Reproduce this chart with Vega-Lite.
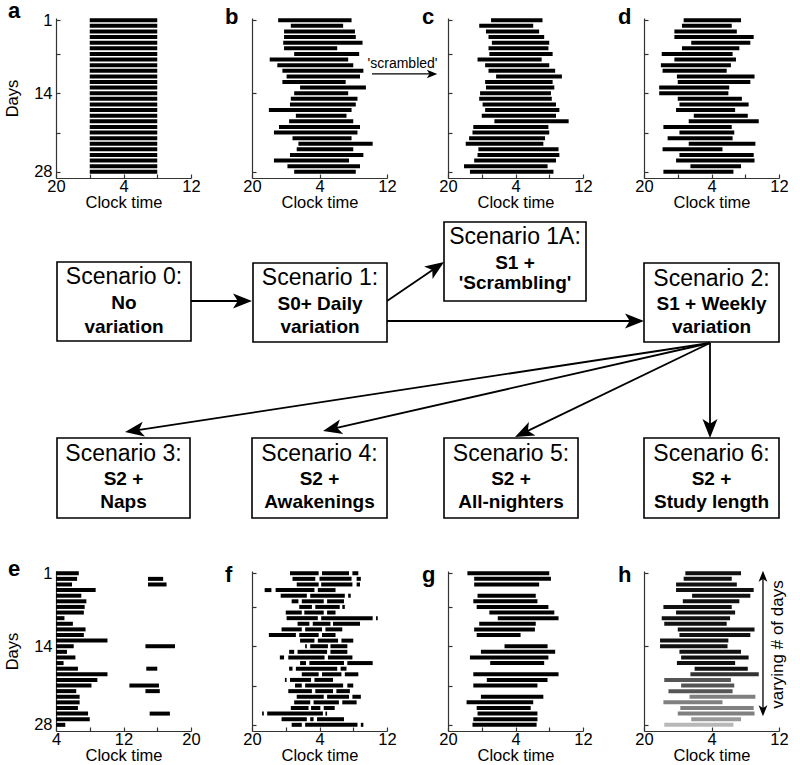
{
"$schema":"https://vega.github.io/schema/vega-lite/v6.json",
"padding":{"left":4,"top":0,"right":0,"bottom":0},
"spacing":0,
"config":{"view":{"stroke":null},"font":"Liberation Sans",
 "axis":{"domainColor":"#333","domainWidth":1.2,"tickColor":"#333","tickWidth":1.2,"tickSize":-4,"labelPadding":8,"labelFontSize":16.5,"titleFontSize":16.5,"titleFontWeight":"normal","labelColor":"#000","titleColor":"#000","grid":false,"labelFlush":false,"labelOverlap":false,"labelFont":"Liberation Sans","titleFont":"Liberation Sans"},
 "axisX":{"titlePadding":0,"labelPadding":4},
 "axisY":{"titlePadding":13}},
"datasets":{
"A":[{"d":1,"s":24,"e":32},{"d":2,"s":24,"e":32},{"d":3,"s":24,"e":32},{"d":4,"s":24,"e":32},{"d":5,"s":24,"e":32},{"d":6,"s":24,"e":32},{"d":7,"s":24,"e":32},{"d":8,"s":24,"e":32},{"d":9,"s":24,"e":32},{"d":10,"s":24,"e":32},{"d":11,"s":24,"e":32},{"d":12,"s":24,"e":32},{"d":13,"s":24,"e":32},{"d":14,"s":24,"e":32},{"d":15,"s":24,"e":32},{"d":16,"s":24,"e":32},{"d":17,"s":24,"e":32},{"d":18,"s":24,"e":32},{"d":19,"s":24,"e":32},{"d":20,"s":24,"e":32},{"d":21,"s":24,"e":32},{"d":22,"s":24,"e":32},{"d":23,"s":24,"e":32},{"d":24,"s":24,"e":32},{"d":25,"s":24,"e":32},{"d":26,"s":24,"e":32},{"d":27,"s":24,"e":32},{"d":28,"s":24,"e":32}],
"B":[{"d":1,"s":23.1,"e":31.8},{"d":2,"s":24.6,"e":30.8},{"d":3,"s":23.8,"e":32.2},{"d":4,"s":23.8,"e":32.3},{"d":5,"s":23.7,"e":33.1},{"d":6,"s":23.8,"e":30.1},{"d":7,"s":25.0,"e":32.7},{"d":8,"s":22.1,"e":31.4},{"d":9,"s":23.0,"e":32.0},{"d":10,"s":23.6,"e":33.2},{"d":11,"s":24.1,"e":32.8},{"d":12,"s":23.6,"e":31.1},{"d":13,"s":25.7,"e":33.5},{"d":14,"s":25.0,"e":31.4},{"d":15,"s":24.6,"e":32.5},{"d":16,"s":24.5,"e":32.3},{"d":17,"s":22.0,"e":31.8},{"d":18,"s":25.2,"e":31.2},{"d":19,"s":24.4,"e":32.0},{"d":20,"s":23.2,"e":32.8},{"d":21,"s":22.6,"e":32.5},{"d":22,"s":24.8,"e":31.8},{"d":23,"s":25.5,"e":34.3},{"d":24,"s":25.3,"e":32.0},{"d":25,"s":24.5,"e":33.2},{"d":26,"s":22.6,"e":31.5},{"d":27,"s":24.2,"e":32.8},{"d":28,"s":25.0,"e":32.3}],
"C":[{"d":1,"s":25.1,"e":31.2},{"d":2,"s":23.7,"e":30.1},{"d":3,"s":24.5,"e":30.8},{"d":4,"s":24.8,"e":31.4},{"d":5,"s":25.2,"e":32.0},{"d":6,"s":24.8,"e":31.9},{"d":7,"s":24.9,"e":32.4},{"d":8,"s":23.5,"e":31.1},{"d":9,"s":24.4,"e":32.0},{"d":10,"s":24.8,"e":32.7},{"d":11,"s":25.7,"e":33.5},{"d":12,"s":24.4,"e":32.4},{"d":13,"s":24.5,"e":32.6},{"d":14,"s":23.8,"e":32.2},{"d":15,"s":23.7,"e":32.3},{"d":16,"s":24.1,"e":32.8},{"d":17,"s":24.4,"e":33.2},{"d":18,"s":24.0,"e":32.8},{"d":19,"s":25.5,"e":34.3},{"d":20,"s":23.0,"e":31.9},{"d":21,"s":22.9,"e":32.0},{"d":22,"s":22.5,"e":31.5},{"d":23,"s":22.1,"e":31.3},{"d":24,"s":23.6,"e":33.1},{"d":25,"s":23.5,"e":33.2},{"d":26,"s":23.1,"e":32.8},{"d":27,"s":21.9,"e":31.8},{"d":28,"s":22.6,"e":32.5}],
"D":[{"d":1,"s":24.7,"e":31.5},{"d":2,"s":24.5,"e":30.4},{"d":3,"s":23.6,"e":31.0},{"d":4,"s":23.6,"e":33.0},{"d":5,"s":25.6,"e":32.6},{"d":6,"s":24.5,"e":31.3},{"d":7,"s":22.1,"e":30.5},{"d":8,"s":23.6,"e":30.9},{"d":9,"s":22.0,"e":30.3},{"d":10,"s":22.2,"e":29.8},{"d":11,"s":23.9,"e":33.1},{"d":12,"s":24.0,"e":32.6},{"d":13,"s":21.8,"e":30.1},{"d":14,"s":21.8,"e":30.0},{"d":15,"s":24.0,"e":31.6},{"d":16,"s":24.2,"e":32.4},{"d":17,"s":23.8,"e":30.8},{"d":18,"s":25.9,"e":32.3},{"d":19,"s":25.3,"e":33.6},{"d":20,"s":22.3,"e":30.4},{"d":21,"s":24.2,"e":30.7},{"d":22,"s":22.8,"e":30.5},{"d":23,"s":25.3,"e":33.2},{"d":24,"s":22.2,"e":29.3},{"d":25,"s":24.2,"e":33.0},{"d":26,"s":23.8,"e":33.1},{"d":27,"s":25.5,"e":31.5},{"d":28,"s":22.3,"e":30.6}],
"E":[{"d":1,"s":4,"e":6.7},{"d":2,"s":4,"e":6.5},{"d":3,"s":4,"e":5.9},{"d":4,"s":4,"e":8.7},{"d":5,"s":4,"e":7.0},{"d":6,"s":4,"e":7.6},{"d":7,"s":4,"e":7.4},{"d":8,"s":4,"e":7.3},{"d":9,"s":4,"e":5.0},{"d":10,"s":4,"e":6.0},{"d":11,"s":4,"e":7.5},{"d":12,"s":4,"e":7.3},{"d":13,"s":4,"e":10.1},{"d":14,"s":4,"e":6.1},{"d":15,"s":4,"e":5.3},{"d":16,"s":4,"e":6.3},{"d":17,"s":4,"e":4.9},{"d":18,"s":4,"e":6.6},{"d":19,"s":4,"e":10.1},{"d":20,"s":4,"e":8.9},{"d":21,"s":4,"e":8.2},{"d":22,"s":4,"e":6.4},{"d":23,"s":4,"e":6.8},{"d":24,"s":4,"e":6.8},{"d":25,"s":4,"e":6.6},{"d":26,"s":4,"e":7.8},{"d":27,"s":4,"e":8.0},{"d":28,"s":4,"e":5.1},
 {"d":2,"s":14.9,"e":16.7},{"d":3,"s":14.9,"e":17.1},{"d":14,"s":14.6,"e":18.1},{"d":18,"s":14.7,"e":16.0},{"d":21,"s":12.7,"e":16.2},{"d":22,"s":14.6,"e":16.3},{"d":26,"s":15.1,"e":17.5}],
"F":[{"d":1,"s":24.5,"e":27.9},{"d":1,"s":28.3,"e":31.5},{"d":1,"s":31.9,"e":32.6},
 {"d":2,"s":24.8,"e":27.5},{"d":2,"s":28.0,"e":31.8},{"d":2,"s":32.4,"e":32.9},
 {"d":3,"s":25.3,"e":27.9},{"d":3,"s":28.2,"e":31.9},{"d":3,"s":32.4,"e":32.8},
 {"d":4,"s":21.5,"e":22.3},{"d":4,"s":22.8,"e":27.4},{"d":4,"s":27.8,"e":29.9},
 {"d":5,"s":23.4,"e":26.5},{"d":5,"s":26.9,"e":31.0},{"d":5,"s":31.4,"e":31.7},
 {"d":6,"s":24.7,"e":25.5},{"d":6,"s":25.9,"e":28.5},{"d":6,"s":28.9,"e":30.9},
 {"d":7,"s":25.6,"e":27.1},{"d":7,"s":27.5,"e":30.4},{"d":7,"s":30.7,"e":31.0},
 {"d":8,"s":24.0,"e":25.9},{"d":8,"s":26.2,"e":28.5},{"d":8,"s":28.9,"e":29.9},
 {"d":9,"s":24.1,"e":27.8},{"d":9,"s":28.2,"e":34.3},{"d":9,"s":34.7,"e":34.9},
 {"d":10,"s":25.4,"e":26.8},{"d":10,"s":27.2,"e":29.3},{"d":10,"s":29.6,"e":32.8},
 {"d":11,"s":23.5,"e":25.9},{"d":11,"s":26.3,"e":28.3},{"d":11,"s":28.7,"e":30.7},
 {"d":12,"s":22.0,"e":25.2},{"d":12,"s":25.6,"e":27.9},{"d":12,"s":28.3,"e":29.9},
 {"d":13,"s":25.7,"e":27.4},{"d":13,"s":27.8,"e":30.2},{"d":13,"s":30.6,"e":32.0},
 {"d":14,"s":26.3,"e":26.5},{"d":14,"s":26.9,"e":29.0},{"d":14,"s":29.3,"e":31.3},
 {"d":15,"s":24.4,"e":25.0},{"d":15,"s":25.4,"e":28.9},{"d":15,"s":29.3,"e":31.3},
 {"d":16,"s":23.3,"e":23.8},{"d":16,"s":24.3,"e":28.6},{"d":16,"s":29.0,"e":31.9},
 {"d":17,"s":25.7,"e":26.4},{"d":17,"s":26.8,"e":30.9},{"d":17,"s":31.3,"e":34.3},
 {"d":18,"s":24.4,"e":24.8},{"d":18,"s":25.2,"e":30.1},{"d":18,"s":30.5,"e":31.2},
 {"d":19,"s":25.9,"e":27.9},{"d":19,"s":28.3,"e":30.6},{"d":19,"s":31.0,"e":32.6},
 {"d":20,"s":23.9,"e":24.1},{"d":20,"s":24.5,"e":27.0},{"d":20,"s":27.4,"e":29.6},
 {"d":21,"s":25.1,"e":25.9},{"d":21,"s":26.3,"e":30.8},{"d":21,"s":31.3,"e":32.0},
 {"d":22,"s":24.3,"e":27.1},{"d":22,"s":27.5,"e":29.6},{"d":22,"s":30.0,"e":31.6},
 {"d":23,"s":25.3,"e":28.5},{"d":23,"s":28.9,"e":31.5},{"d":23,"s":31.9,"e":32.9},
 {"d":24,"s":25.0,"e":26.9},{"d":24,"s":27.3,"e":30.3},{"d":24,"s":30.7,"e":32.4},
 {"d":25,"s":24.6,"e":26.7},{"d":25,"s":27.0,"e":28.1},{"d":25,"s":28.5,"e":29.8},
 {"d":26,"s":21.2,"e":21.4},{"d":26,"s":21.8,"e":28.4},{"d":26,"s":28.7,"e":28.9},
 {"d":27,"s":23.5,"e":26.5},{"d":27,"s":26.9,"e":27.3},{"d":27,"s":27.7,"e":30.9},
 {"d":28,"s":24.7,"e":25.9},{"d":28,"s":26.3,"e":32.5},{"d":28,"s":32.9,"e":33.2}],
"G":[{"d":1,"s":22.3,"e":32.0},{"d":2,"s":23.1,"e":32.2},{"d":3,"s":23.1,"e":30.8},{"d":5,"s":23.5,"e":30.4},{"d":6,"s":23.0,"e":30.6},{"d":7,"s":23.4,"e":31.9},{"d":8,"s":24.9,"e":32.6},{"d":9,"s":25.9,"e":33.1},{"d":10,"s":23.7,"e":30.4},{"d":11,"s":23.1,"e":30.3},{"d":12,"s":23.4,"e":28.6},{"d":14,"s":26.7,"e":31.8},{"d":15,"s":23.9,"e":32.7},{"d":16,"s":22.6,"e":31.9},{"d":17,"s":25.0,"e":31.4},{"d":19,"s":23.0,"e":33.1},{"d":20,"s":24.6,"e":31.8},{"d":21,"s":23.0,"e":30.6},{"d":23,"s":23.9,"e":31.3},{"d":24,"s":22.2,"e":30.1},{"d":25,"s":23.4,"e":29.8},{"d":26,"s":23.5,"e":30.6},{"d":27,"s":23.0,"e":30.6},{"d":28,"s":22.9,"e":30.5}],
"H":[{"d":1,"s":24.9,"e":31.5,"g":1},{"d":2,"s":24.7,"e":30.4,"g":1},{"d":3,"s":23.8,"e":31.0,"g":1},{"d":4,"s":23.8,"e":33.0,"g":1},{"d":5,"s":25.7,"e":32.6,"g":1},{"d":6,"s":24.6,"e":31.3,"g":1},{"d":7,"s":22.3,"e":30.4,"g":1},{"d":8,"s":23.8,"e":30.8,"g":1},{"d":9,"s":22.1,"e":30.2,"g":1},{"d":10,"s":22.4,"e":29.8,"g":1},{"d":11,"s":24.0,"e":33.1,"g":1},{"d":12,"s":24.2,"e":32.6,"g":1},{"d":13,"s":21.9,"e":30.0,"g":1},{"d":14,"s":21.9,"e":29.9,"g":1},{"d":15,"s":24.2,"e":31.5,"g":1},{"d":16,"s":24.4,"e":32.4,"g":1},{"d":17,"s":23.9,"e":30.8,"g":1},{"d":18,"s":26.0,"e":32.3,"g":1},{"d":19,"s":25.5,"e":33.6,"g":2},{"d":20,"s":22.4,"e":30.3,"g":3},{"d":21,"s":24.4,"e":30.7,"g":3},{"d":22,"s":22.9,"e":30.5,"g":3},{"d":23,"s":25.4,"e":33.2,"g":4},{"d":24,"s":22.3,"e":29.3,"g":4},{"d":25,"s":24.3,"e":33.0,"g":4},{"d":26,"s":24.0,"e":33.1,"g":4},{"d":27,"s":25.6,"e":31.5,"g":5},{"d":28,"s":22.4,"e":30.6,"g":6}],
"boxes":[{"id":"S0","x1":57,"x2":191,"y1":261,"y2":340},{"id":"S1","x1":253,"x2":387,"y1":262,"y2":341},{"id":"S1A","x1":444,"x2":586,"y1":221,"y2":300},{"id":"S2","x1":644,"x2":779,"y1":262,"y2":341},{"id":"S3","x1":57,"x2":190,"y1":437,"y2":517},{"id":"S4","x1":252,"x2":387,"y1":437,"y2":517},{"id":"S5","x1":444,"x2":578,"y1":437,"y2":517},{"id":"S6","x1":644,"x2":779,"y1":437,"y2":517}],
"lines":[{"x1":191,"y1":300,"x2":242.5,"y2":300},{"x1":387,"y1":300,"x2":436.2,"y2":266.4},{"x1":387,"y1":320,"x2":634.5,"y2":320},{"x1":710,"y1":342,"x2":134.4,"y2":429.6},{"x1":710,"y1":342,"x2":332.3,"y2":427.9},{"x1":710,"y1":342,"x2":523.6,"y2":431.9},{"x1":710,"y1":342,"x2":710,"y2":427.5}],
"heads":[{"x":242.5,"y":300,"a":90},{"x":436.2,"y":266.4,"a":55.6},{"x":634.5,"y":320,"a":90},{"x":134.4,"y":429.6,"a":261.4},{"x":332.3,"y":427.9,"a":257.2},{"x":523.6,"y":431.9,"a":244.3},{"x":710,"y":427.5,"a":180}],
"txt":[{"x":124,"y":283.3,"t":"Scenario 0:","w":"n"},{"x":124,"y":308.3,"t":"No","w":"b"},{"x":124,"y":331.7,"t":"variation","w":"b"},
 {"x":320,"y":284,"t":"Scenario 1:","w":"n"},{"x":320,"y":309,"t":"S0+ Daily","w":"b"},{"x":320,"y":332,"t":"variation","w":"b"},
 {"x":515,"y":243.3,"t":"Scenario 1A:","w":"n"},{"x":515,"y":267.7,"t":"S1 +","w":"b"},{"x":515,"y":288.3,"t":"'Scrambling'","w":"b"},
 {"x":711.5,"y":285,"t":"Scenario 2:","w":"n"},{"x":711.5,"y":309,"t":"S1 + Weekly","w":"b"},{"x":711.5,"y":332,"t":"variation","w":"b"},
 {"x":123.5,"y":460,"t":"Scenario 3:","w":"n"},{"x":123.5,"y":484,"t":"S2 +","w":"b"},{"x":123.5,"y":506.7,"t":"Naps","w":"b"},
 {"x":319.5,"y":460,"t":"Scenario 4:","w":"n"},{"x":319.5,"y":484,"t":"S2 +","w":"b"},{"x":319.5,"y":506.7,"t":"Awakenings","w":"b"},
 {"x":511,"y":460,"t":"Scenario 5:","w":"n"},{"x":511,"y":484,"t":"S2 +","w":"b"},{"x":511,"y":506.7,"t":"All-nighters","w":"b"},
 {"x":711.5,"y":460,"t":"Scenario 6:","w":"n"},{"x":711.5,"y":484,"t":"S2 +","w":"b"},{"x":711.5,"y":506.7,"t":"Study length","w":"b"}],
"scrLine":[{"s":34.22,"e":41.34,"d":10.57}],
"scrHead":[{"s":41.34,"d":10.57,"a":90}],
"scrText":[{"s":37.84,"d":9.45,"t":"'scrambled'"}],
"hLine":[{"s":34.1,"d":1.53,"d2":25.5}],
"hHead":[{"s":34.1,"d":1.53,"a":0},{"s":34.1,"d":25.5,"a":180}],
"hText":[{"s":35.9,"d":13.7,"t":"varying # of days"}]
},
"vconcat":[
{"hconcat":[
 {"width":135,"height":160,
  "title":{"text":"a","anchor":"start","frame":"group","dx":-48,"dy":28,"offset":0,"baseline":"alphabetic","fontSize":22,"fontWeight":"bold","color":"#000"},
  "data":{"name":"A"},"mark":{"type":"rule","strokeWidth":4,"color":"#000"},
  "encoding":{"x":{"field":"s","type":"quantitative","scale":{"domain":[20,36],"nice":false,"zero":false},"axis":{"values":[20,24,28,32,36],"labelExpr":"datum.value==24||datum.value==32?'':''+(datum.value%24)","title":"Clock time"}},"x2":{"field":"e"},
   "y":{"field":"d","type":"quantitative","scale":{"domain":[0.6,29.1],"reverse":true,"nice":false,"zero":false},"axis":{"values":[1,7,14,21,28],"labelExpr":"datum.value==7||datum.value==21?'':datum.label","title":"Days"}}}},
 {"width":135,"height":160,
  "title":{"text":"b","anchor":"start","frame":"group","dx":-27,"dy":28,"offset":0,"baseline":"alphabetic","fontSize":22,"fontWeight":"bold","color":"#000"},
  "layer":[
   {"data":{"name":"B"},"mark":{"type":"rule","strokeWidth":4,"color":"#000"},
    "encoding":{"x":{"field":"s","type":"quantitative","scale":{"domain":[20,36],"nice":false,"zero":false},"axis":{"values":[20,24,28,32,36],"labelExpr":"datum.value==24||datum.value==32?'':''+(datum.value%24)","title":"Clock time"}},"x2":{"field":"e"},
     "y":{"field":"d","type":"quantitative","scale":{"domain":[0.6,29.1],"reverse":true,"nice":false,"zero":false},"axis":{"values":[1,7,14,21,28],"labels":false,"title":null}}}},
   {"data":{"name":"scrLine"},"mark":{"type":"rule","strokeWidth":1.3,"color":"#000"},
    "encoding":{"x":{"field":"s","type":"quantitative"},"x2":{"field":"e"},"y":{"field":"d","type":"quantitative"}}},
   {"data":{"name":"scrHead"},"mark":{"type":"point","shape":"M0,-1L0.8,1L0,0.5L-0.8,1Z","filled":true,"color":"#000","opacity":1,"size":110,"strokeWidth":0},
    "encoding":{"x":{"field":"s","type":"quantitative"},"y":{"field":"d","type":"quantitative"},"angle":{"field":"a","type":"quantitative","scale":null}}},
   {"data":{"name":"scrText"},"mark":{"type":"text","fontSize":14,"font":"Liberation Sans","color":"#000","align":"center","baseline":"alphabetic"},
    "encoding":{"x":{"field":"s","type":"quantitative"},"y":{"field":"d","type":"quantitative"},"text":{"field":"t"}}}
  ]},
 {"width":135,"height":160,
  "title":{"text":"c","anchor":"start","frame":"group","dx":-26,"dy":28,"offset":0,"baseline":"alphabetic","fontSize":22,"fontWeight":"bold","color":"#000"},
  "data":{"name":"C"},"mark":{"type":"rule","strokeWidth":4,"color":"#000"},
  "encoding":{"x":{"field":"s","type":"quantitative","scale":{"domain":[20,36],"nice":false,"zero":false},"axis":{"values":[20,24,28,32,36],"labelExpr":"datum.value==24||datum.value==32?'':''+(datum.value%24)","title":"Clock time"}},"x2":{"field":"e"},
   "y":{"field":"d","type":"quantitative","scale":{"domain":[0.6,29.1],"reverse":true,"nice":false,"zero":false},"axis":{"values":[1,7,14,21,28],"labels":false,"title":null}}}},
 {"width":135,"height":160,
  "title":{"text":"d","anchor":"start","frame":"group","dx":-26,"dy":28,"offset":0,"baseline":"alphabetic","fontSize":22,"fontWeight":"bold","color":"#000"},
  "data":{"name":"D"},"mark":{"type":"rule","strokeWidth":4,"color":"#000"},
  "encoding":{"x":{"field":"s","type":"quantitative","scale":{"domain":[20,36],"nice":false,"zero":false},"axis":{"values":[20,24,28,32,36],"labelExpr":"datum.value==24||datum.value==32?'':''+(datum.value%24)","title":"Clock time"}},"x2":{"field":"e"},
   "y":{"field":"d","type":"quantitative","scale":{"domain":[0.6,29.1],"reverse":true,"nice":false,"zero":false},"axis":{"values":[1,7,14,21,28],"labels":false,"title":null}}}}
 ],"spacing":61,"bounds":"flush"},
{"width":744,"height":347,
 "layer":[
  {"data":{"name":"lines"},"mark":{"type":"rule","strokeWidth":1.8,"color":"#000"},
   "encoding":{"x":{"field":"x1","type":"quantitative","scale":{"domain":[56,800],"nice":false,"zero":false},"axis":null},"x2":{"field":"x2"},
    "y":{"field":"y1","type":"quantitative","scale":{"domain":[210,557],"reverse":true,"nice":false,"zero":false},"axis":null},"y2":{"field":"y2"}}},
  {"data":{"name":"heads"},"mark":{"type":"point","shape":"M0,-1L0.79,1L0,0.5L-0.79,1Z","filled":true,"color":"#000","opacity":1,"size":361,"strokeWidth":0},
   "encoding":{"x":{"field":"x","type":"quantitative","scale":{"domain":[56,800],"nice":false,"zero":false},"axis":null},
    "y":{"field":"y","type":"quantitative","scale":{"domain":[210,557],"reverse":true,"nice":false,"zero":false},"axis":null},
    "angle":{"field":"a","type":"quantitative","scale":null}}},
  {"data":{"name":"boxes"},"mark":{"type":"rect","fill":"#fff","stroke":"#000","strokeWidth":1.6},
   "encoding":{"x":{"field":"x1","type":"quantitative","scale":{"domain":[56,800],"nice":false,"zero":false},"axis":null},"x2":{"field":"x2"},
    "y":{"field":"y1","type":"quantitative","scale":{"domain":[210,557],"reverse":true,"nice":false,"zero":false},"axis":null},"y2":{"field":"y2"}}},
  {"data":{"name":"txt"},"transform":[{"filter":"datum.w=='n'"}],"mark":{"type":"text","fontSize":23,"font":"Liberation Sans","color":"#000","align":"center","baseline":"alphabetic"},
   "encoding":{"x":{"field":"x","type":"quantitative","scale":{"domain":[56,800],"nice":false,"zero":false},"axis":null},
    "y":{"field":"y","type":"quantitative","scale":{"domain":[210,557],"reverse":true,"nice":false,"zero":false},"axis":null},"text":{"field":"t"}}},
  {"data":{"name":"txt"},"transform":[{"filter":"datum.w=='b'"}],"mark":{"type":"text","fontSize":19,"fontWeight":"bold","font":"Liberation Sans","color":"#000","align":"center","baseline":"alphabetic"},
   "encoding":{"x":{"field":"x","type":"quantitative","scale":{"domain":[56,800],"nice":false,"zero":false},"axis":null},
    "y":{"field":"y","type":"quantitative","scale":{"domain":[210,557],"reverse":true,"nice":false,"zero":false},"axis":null},"text":{"field":"t"}}}
 ]},
{"hconcat":[
 {"width":135,"height":160,
  "title":{"text":"e","anchor":"start","frame":"group","dx":-48,"dy":33,"offset":0,"baseline":"alphabetic","fontSize":22,"fontWeight":"bold","color":"#000"},
  "data":{"name":"E"},"mark":{"type":"rule","strokeWidth":4,"color":"#000"},
  "encoding":{"x":{"field":"s","type":"quantitative","scale":{"domain":[4,20],"nice":false,"zero":false},"axis":{"values":[4,8,12,16,20],"labelExpr":"datum.value==8||datum.value==16?'':datum.label","title":"Clock time"}},"x2":{"field":"e"},
   "y":{"field":"d","type":"quantitative","scale":{"domain":[0.6,29.1],"reverse":true,"nice":false,"zero":false},"axis":{"values":[1,7,14,21,28],"labelExpr":"datum.value==7||datum.value==21?'':datum.label","title":"Days"}}}},
 {"width":135,"height":160,
  "title":{"text":"f","anchor":"start","frame":"group","dx":-27,"dy":33,"offset":0,"baseline":"alphabetic","fontSize":22,"fontWeight":"bold","color":"#000"},
  "data":{"name":"F"},"mark":{"type":"rule","strokeWidth":4,"color":"#000"},
  "encoding":{"x":{"field":"s","type":"quantitative","scale":{"domain":[20,36],"nice":false,"zero":false},"axis":{"values":[20,24,28,32,36],"labelExpr":"datum.value==24||datum.value==32?'':''+(datum.value%24)","title":"Clock time"}},"x2":{"field":"e"},
   "y":{"field":"d","type":"quantitative","scale":{"domain":[0.6,29.1],"reverse":true,"nice":false,"zero":false},"axis":{"values":[1,7,14,21,28],"labels":false,"title":null}}}},
 {"width":135,"height":160,
  "title":{"text":"g","anchor":"start","frame":"group","dx":-26,"dy":33,"offset":0,"baseline":"alphabetic","fontSize":22,"fontWeight":"bold","color":"#000"},
  "data":{"name":"G"},"mark":{"type":"rule","strokeWidth":4,"color":"#000"},
  "encoding":{"x":{"field":"s","type":"quantitative","scale":{"domain":[20,36],"nice":false,"zero":false},"axis":{"values":[20,24,28,32,36],"labelExpr":"datum.value==24||datum.value==32?'':''+(datum.value%24)","title":"Clock time"}},"x2":{"field":"e"},
   "y":{"field":"d","type":"quantitative","scale":{"domain":[0.6,29.1],"reverse":true,"nice":false,"zero":false},"axis":{"values":[1,7,14,21,28],"labels":false,"title":null}}}},
 {"width":135,"height":160,
  "title":{"text":"h","anchor":"start","frame":"group","dx":-26,"dy":33,"offset":0,"baseline":"alphabetic","fontSize":22,"fontWeight":"bold","color":"#000"},
  "layer":[
   {"data":{"name":"H"},"mark":{"type":"rule","strokeWidth":4},
    "encoding":{"x":{"field":"s","type":"quantitative","scale":{"domain":[20,36],"nice":false,"zero":false},"axis":{"values":[20,24,28,32,36],"labelExpr":"datum.value==24||datum.value==32?'':''+(datum.value%24)","title":"Clock time"}},"x2":{"field":"e"},
     "y":{"field":"d","type":"quantitative","scale":{"domain":[0.6,29.1],"reverse":true,"nice":false,"zero":false},"axis":{"values":[1,7,14,21,28],"labels":false,"title":null}},
     "color":{"field":"g","type":"ordinal","scale":{"domain":[1,2,3,4,5,6],"range":["#111111","#333333","#555555","#808080","#999999","#b8b8b8"]},"legend":null}}},
   {"data":{"name":"hLine"},"mark":{"type":"rule","strokeWidth":1.3,"color":"#000"},
    "encoding":{"x":{"field":"s","type":"quantitative"},"y":{"field":"d","type":"quantitative"},"y2":{"field":"d2"}}},
   {"data":{"name":"hHead"},"mark":{"type":"point","shape":"M0,-1L0.8,1L0,0.5L-0.8,1Z","filled":true,"color":"#000","opacity":1,"size":121,"strokeWidth":0},
    "encoding":{"x":{"field":"s","type":"quantitative"},"y":{"field":"d","type":"quantitative"},"angle":{"field":"a","type":"quantitative","scale":null}}},
   {"data":{"name":"hText"},"mark":{"type":"text","fontSize":17,"font":"Liberation Sans","color":"#000","align":"center","baseline":"middle","angle":270},
    "encoding":{"x":{"field":"s","type":"quantitative"},"y":{"field":"d","type":"quantitative"},"text":{"field":"t"}}}
  ]}
 ],"spacing":61,"bounds":"flush"}
]
}
